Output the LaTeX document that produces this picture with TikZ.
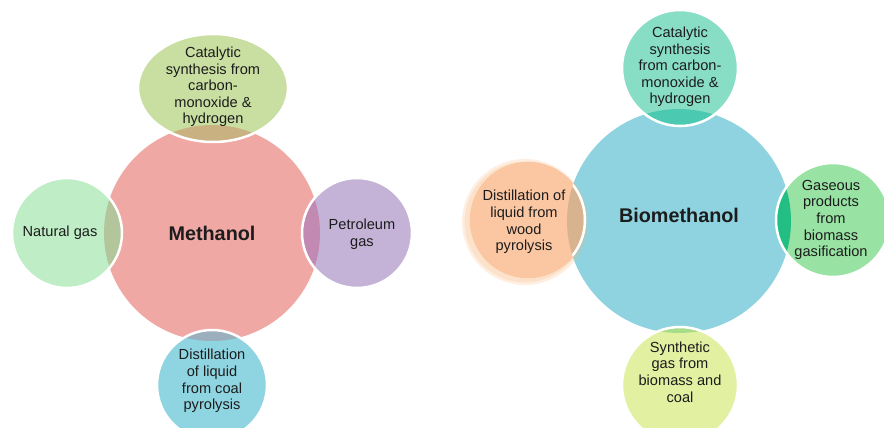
\documentclass[tikz,border=0pt]{standalone}
\usepackage{fontspec}
\setmainfont{Liberation Sans}
\usetikzlibrary{
    shapes.geometric,
    positioning
}
\definecolor{ink}{HTML}{1C1C1C}
% Methanol side
\definecolor{methpink}{HTML}{F0A8A5}
\definecolor{synthgreen}{HTML}{C9DEA1}
\definecolor{synthlens}{HTML}{CAB182}
\definecolor{natgreen}{HTML}{BEEDC6}
\definecolor{natlens}{HTML}{B3C59B}
\definecolor{petrolilac}{HTML}{C4B3D7}
\definecolor{petrolens}{HTML}{C289B3}
\definecolor{coalblue}{HTML}{8FD5E1}
\definecolor{coallens}{HTML}{9BAFBC}
% Biomethanol side
\definecolor{biosky}{HTML}{8FD3E0}
\definecolor{bioteal}{HTML}{88DEC5}
\definecolor{biotlens}{HTML}{4CCAB1}
\definecolor{woodorange}{HTML}{FBC6A2}
\definecolor{woodlens}{HTML}{D8B38F}
\definecolor{gasgreen}{HTML}{98E2A3}
\definecolor{gaslens}{HTML}{22BE83}
\definecolor{synyellow}{HTML}{E2F0A1}
\definecolor{synlens}{HTML}{A9DC89}
\tikzset{
    % Large centre disc
    hub/.style={
        circle,
        inner sep=0pt,
        fill=#1
    },
    % Source disc around a centre
    source/.style={
        circle,
        inner sep=0pt,
        minimum size=110pt,
        fill=#1,
        draw=white,
        line width=2.5pt
    },
    % Part of a source that lies on the centre disc
    lens/.style n args={3}{
        path picture={\fill[#2] (#1.center) circle (#3);}
    },
    % Soft glow round a disc
    glow/.style={
        fill=#1,
        opacity=0.2
    },
    % Text styles
    blurb/.style={
        align=center,
        inner sep=0pt,
        font=\fontsize{14.6}{16.6}\selectfont,
        text=ink
    },
    title/.style={
        inner sep=0pt,
        font=\fontsize{19.8}{22}\selectfont\bfseries,
        text=ink
    }
}

\begin{document}
\begin{tikzpicture}[x=1pt, y=-1pt]
        \clip (0,0) rectangle (884,428);
        \fill[white] (0,0) rectangle (884,428);

        % Methanol cluster
        \node[hub=methpink, minimum size=216pt] (meth) at (212,233) {};
        \node[source=synthgreen, ellipse, minimum width=150pt, minimum height=108pt,
              lens={meth}{synthlens}{108}] (synth) at (213,88) {};
        \node[source=natgreen, lens={meth}{natlens}{108}] (natural) at (67,233) {};
        \node[source=petrolilac, lens={meth}{petrolens}{108}] (petro) at (357,233) {};
        \node[source=coalblue, lens={meth}{coallens}{108}] (coal) at (212,385) {};

        \node[title] (meth-t) at (meth) {Methanol};
        \node[blurb] (synth-t) at (213,87) {Catalytic\\synthesis from\\carbon-\\monoxide \&\\hydrogen};
        \node[blurb] (natural-t) at (60,233) {Natural gas};
        \node[blurb] (petro-t) at (362,234) {Petroleum\\gas};
        \node[blurb] (coal-t) at (212,381) {Distillation\\of liquid\\from coal\\pyrolysis};

        % Biomethanol cluster
        \node[hub=biosky, minimum size=224pt] (bio) at (679,221) {};
        \node[source=bioteal, minimum size=116pt, lens={bio}{biotlens}{112}] (cat) at (680,68) {};
        \coordinate (wood-glow) at (525,222);
        \fill[glow=woodorange!70!orange] (wood-glow) circle (63);
        \fill[glow=woodorange!70!orange] (wood-glow) circle (60.5);
        \node[source=woodorange, draw=woodorange, minimum size=114pt,
              lens={bio}{woodlens}{112}] (wood) at (528,220) {};
        \begin{scope}
            \clip (bio.center) circle (112);
            \draw[white, line width=2.5pt] (wood.center) circle (57);
        \end{scope}
        \node[source=gasgreen, minimum size=114pt, lens={bio}{gaslens}{112}] (gasif) at (833,220) {};
        \node[source=synyellow, minimum size=116pt, lens={bio}{synlens}{112}] (syngas) at (680,385) {};

        \node[title] (bio-t) at (679,215) {Biomethanol};
        \node[blurb] (cat-t) at (680,67) {Catalytic\\synthesis\\from carbon-\\monoxide \&\\hydrogen};
        \node[blurb] (wood-t) at (524,222) {Distillation of\\liquid from\\wood\\pyrolysis};
        \node[blurb] (gasif-t) at (831,220) {Gaseous\\products\\from\\biomass\\gasification};
        \node[blurb] (syngas-t) at (680,372) {Synthetic\\gas from\\biomass and\\coal};

    \end{tikzpicture}
\end{document}
